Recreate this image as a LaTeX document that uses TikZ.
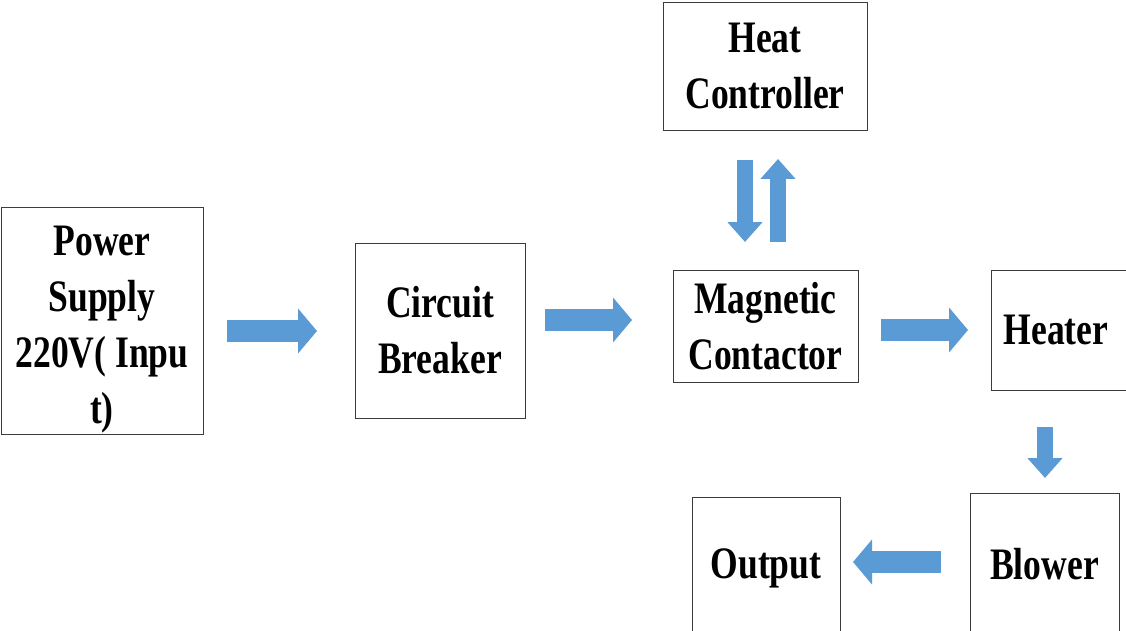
\documentclass[tikz,border=0pt]{standalone}
\usepackage{fontspec}
\setmainfont{Liberation Serif}[FakeStretch=0.79]
\usetikzlibrary{arrows.meta, positioning}
\definecolor{flowblue}{RGB}{91, 155, 213}
\definecolor{boxline}{RGB}{60, 60, 60}

\begin{document}
\begin{tikzpicture}[
    x=1pt, y=-1pt,
    blk/.style={rectangle, draw=boxline, line width=0.9pt, fill=white, font=\fontsize{45}{56}\selectfont\bfseries, align=center, inner sep=0pt},
    flow/.style={draw=flowblue, line width=22pt, -{Triangle[width=44pt, length=19pt]}},
    vflow/.style={draw=flowblue, line width=16pt, -{Triangle[width=34pt, length=20pt]}}
]
  \fill[white] (0,0) rectangle (1126,631);
  \useasboundingbox (0,0) rectangle (1126,631);

  % blocks
  \node[blk, minimum width=202pt, minimum height=227pt] (supply) at (102, 321) {\rule{0pt}{46pt}Power\\Supply\\220V( Inpu\\t)};
  \node[blk, minimum width=170pt, minimum height=175pt] (breaker) at (440, 330.5) {Circuit\\Breaker};
  \node[blk, minimum width=185pt, minimum height=112pt] (contactor) at (765.5, 326) {Magnetic\\Contactor};
  \node[blk, minimum width=204pt, minimum height=128pt] (ctrl) at (765, 66) {Heat\\Controller};
  \node[blk, minimum width=140pt, minimum height=120pt] (heater) at (1061, 330) {Heater\hspace*{10pt}};
  \node[blk, minimum width=149pt, minimum height=142pt] (blower) at (1044.5, 564) {Blower};
  \node[blk, minimum width=148pt, minimum height=143pt] (output) at (766, 568.5) {Output};

  % arrow ends
  \coordinate (s1) at (227, 331);  \coordinate (e1) at (317, 331);
  \coordinate (s2) at (545, 320);  \coordinate (e2) at (632, 320);
  \coordinate (s3) at (881, 330);  \coordinate (e3) at (968, 330);
  \coordinate (s4) at (745, 160);  \coordinate (e4) at (745, 242);
  \coordinate (s5) at (778, 242);  \coordinate (e5) at (778, 159);
  \coordinate (s6) at (1045, 427); \coordinate (e6) at (1045, 478);
  \coordinate (s7) at (941, 562);  \coordinate (e7) at (853, 562);

  % block arrows
  \draw[flow] (s1) -- (e1);
  \draw[flow] (s2) -- (e2);
  \draw[flow] (s3) -- (e3);
  \draw[vflow] (s4) -- (e4);
  \draw[vflow] (s5) -- (e5);
  \draw[vflow] (s6) -- (e6);
  \draw[flow] (s7) -- (e7);
\end{tikzpicture}
\end{document}
